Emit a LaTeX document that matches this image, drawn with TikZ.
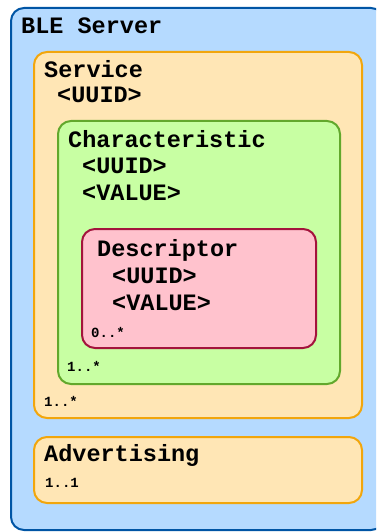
\documentclass[tikz,border=0pt]{standalone}
\usepackage{fontspec}
\setmonofont{Liberation Mono}
\begin{document}
\begin{tikzpicture}[x=1bp,y=-1bp,
  box/.style={line width=2bp, rounded corners=13bp},
  bluebox/.style={box, draw={rgb,255:red,0;green,85;blue,165}, fill={rgb,255:red,181;green,218;blue,255}},
  orangebox/.style={box, draw={rgb,255:red,242;green,166;blue,12}, fill={rgb,255:red,255;green,230;blue,181}},
  greenbox/.style={box, draw={rgb,255:red,98;green,168;blue,44}, fill={rgb,255:red,200;green,255;blue,163}},
  pinkbox/.style={box, draw={rgb,255:red,163;green,20;blue,60}, fill={rgb,255:red,255;green,194;blue,205}},
  big/.style={anchor=base west, inner sep=0pt, font=\ttfamily\bfseries\fontsize{23.5bp}{25bp}\selectfont},
  small/.style={anchor=base west, inner sep=0pt, font=\ttfamily\bfseries\fontsize{14bp}{15bp}\selectfont}]
\useasboundingbox (0,0) rectangle (376,532);
\begin{scope}
\clip (0,0) rectangle (376,532);
\draw[bluebox] (11,8) rectangle (384,530);
\end{scope}
\draw[orangebox] (34,52) rectangle (362,418);
\draw[greenbox] (58,121) rectangle (340,384);
\draw[pinkbox] (82,229) rectangle (316,348);
\draw[orangebox] (34,437) rectangle (362,503);
\node[big] (ble) at (21,34) {BLE Server};
\node[big] (svc) at (44,78) {Service};
\node[big] (svcu) at (57,103) {<UUID>};
\node[big] (chr) at (68,148) {Characteristic};
\node[big] (chru) at (82,174) {<UUID>};
\node[big] (chrv) at (82,201) {<VALUE>};
\node[big] (dsc) at (97,256) {Descriptor};
\node[big] (dscu) at (112,283) {<UUID>};
\node[big] (dscv) at (112,310) {<VALUE>};
\node[small] (m0) at (91,337) {0..*};
\node[small] (m1) at (67,371) {1..*};
\node[small] (m2) at (44,406) {1..*};
\node[big] (adv) at (44,461) {Advertising};
\node[small] (m3) at (45,487) {1..1};
\end{tikzpicture}
\end{document}
